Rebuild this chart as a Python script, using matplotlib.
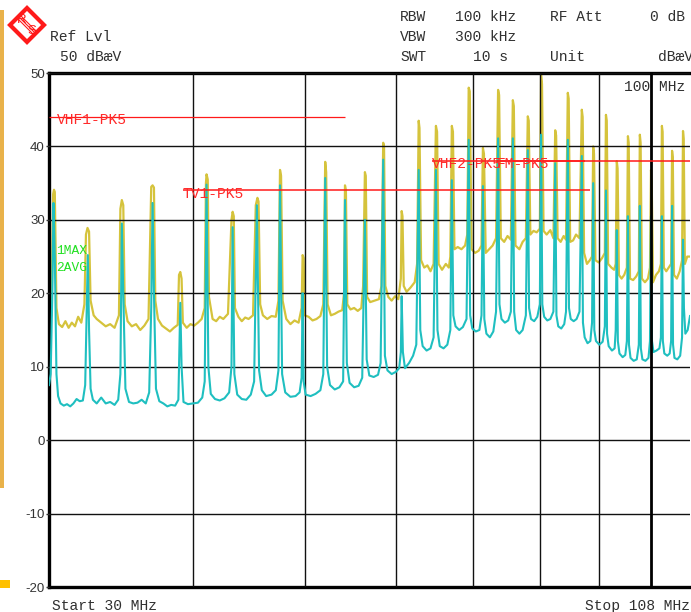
import matplotlib.pyplot as plt
import matplotlib
from matplotlib.patches import Polygon, Rectangle
from matplotlib.ticker import NullLocator

matplotlib.rcParams['axes.unicode_minus'] = False

W, H = 691, 612

# trace 1: MAX hold (MHz, dBuV)
max_trace = [
    (30.0, 16.0), (30.15, 17.0), (30.25, 33.5), (30.3, 34.1), (30.35, 33.8), (30.45, 18.0),
    (30.6, 15.8), (30.8, 15.4), (31.0, 16.2), (31.2, 15.3), (31.4, 16.0), (31.6, 15.5),
    (31.8, 16.8), (32.0, 16.0), (32.2, 18.5), (32.3, 28.0), (32.4, 28.9), (32.5, 28.4),
    (32.6, 19.0), (32.8, 17.0), (33.0, 16.5), (33.3, 16.0), (33.6, 15.5), (33.9, 15.8),
    (34.2, 15.3), (34.5, 17.0), (34.6, 31.5), (34.7, 32.7), (34.8, 32.0), (34.9, 18.5),
    (35.1, 16.2), (35.4, 15.5), (35.7, 15.8), (36.0, 15.0), (36.3, 15.6), (36.6, 16.5),
    (36.8, 34.5), (36.9, 34.7), (37.0, 34.4), (37.1, 19.0), (37.3, 16.5), (37.6, 15.6),
    (37.9, 15.2), (38.2, 14.8), (38.5, 15.3), (38.8, 15.7), (38.9, 22.5), (39.0, 22.9),
    (39.1, 22.0), (39.2, 16.0), (39.5, 15.3), (39.8, 15.8), (40.1, 15.6), (40.4, 16.0),
    (40.7, 16.5), (40.95, 18.0), (41.05, 35.0), (41.1, 36.2), (41.2, 35.5), (41.3, 19.5),
    (41.6, 16.5), (41.9, 16.2), (42.2, 16.8), (42.5, 16.5), (42.9, 17.2), (43.2, 30.0),
    (43.3, 31.1), (43.4, 30.5), (43.5, 18.0), (43.8, 16.8), (44.1, 16.2), (44.4, 16.7),
    (44.7, 16.5), (45.1, 17.0), (45.35, 32.0), (45.5, 33.0), (45.6, 32.5), (45.75, 18.5),
    (46.0, 17.0), (46.4, 16.5), (46.8, 16.9), (47.2, 16.8), (47.45, 19.0), (47.6, 36.8),
    (47.7, 36.0), (47.85, 19.0), (48.2, 16.5), (48.6, 15.8), (49.0, 16.3), (49.4, 16.0),
    (49.7, 18.0), (49.8, 25.2), (49.9, 24.8), (50.0, 17.0), (50.4, 16.8), (50.8, 16.3),
    (51.2, 16.5), (51.6, 16.9), (51.9, 18.5), (52.1, 37.9), (52.2, 36.5), (52.35, 18.5),
    (52.7, 17.0), (53.1, 17.2), (53.5, 17.5), (53.9, 17.7), (54.1, 20.0), (54.2, 34.7),
    (54.3, 34.0), (54.45, 18.5), (54.8, 17.8), (55.2, 18.0), (55.6, 17.6), (56.0, 18.0),
    (56.2, 21.0), (56.4, 36.5), (56.5, 36.0), (56.65, 19.5), (57.0, 18.8), (57.5, 19.0),
    (58.0, 19.2), (58.3, 21.0), (58.5, 40.5), (58.6, 40.0), (58.75, 21.0), (59.1, 19.5),
    (59.5, 19.0), (59.9, 19.6), (60.3, 19.2), (60.6, 22.0), (60.7, 31.2), (60.8, 30.5),
    (60.95, 21.0), (61.3, 20.2), (61.8, 20.8), (62.3, 21.5), (62.6, 24.0), (62.8, 43.5),
    (62.9, 42.5), (63.1, 24.5), (63.5, 23.5), (63.9, 23.8), (64.3, 23.0), (64.7, 24.0),
    (65.0, 42.8), (65.15, 42.0), (65.35, 24.0), (65.8, 23.2), (66.3, 24.0), (66.7, 23.5),
    (66.9, 25.0), (67.1, 42.8), (67.25, 42.0), (67.45, 26.0), (67.9, 26.3), (68.4, 26.0),
    (68.9, 26.5), (69.2, 28.0), (69.4, 48.0), (69.55, 47.5), (69.8, 26.0), (70.3, 25.5),
    (70.8, 25.8), (71.2, 26.5), (71.4, 39.8), (71.55, 39.0), (71.8, 25.5), (72.3, 26.0),
    (72.8, 26.5), (73.3, 27.5), (73.6, 47.7), (73.75, 47.0), (74.0, 27.5), (74.5, 27.0),
    (75.0, 27.8), (75.5, 27.3), (75.8, 46.3), (75.95, 45.5), (76.2, 26.5), (76.8, 26.0),
    (77.3, 27.0), (77.8, 27.5), (78.1, 44.1), (78.25, 43.5), (78.5, 28.0), (79.0, 28.5),
    (79.5, 28.3), (80.0, 28.8), (80.2, 49.7), (80.35, 48.5), (80.6, 28.5), (81.1, 28.0),
    (81.7, 28.6), (82.2, 27.5), (82.5, 42.2), (82.65, 41.5), (82.9, 27.5), (83.4, 27.0),
    (83.9, 27.8), (84.3, 27.3), (84.6, 47.3), (84.75, 46.5), (85.0, 27.0), (85.5, 27.2),
    (86.0, 28.0), (86.6, 27.5), (87.0, 45.0), (87.15, 44.0), (87.4, 25.5), (87.9, 24.0),
    (88.4, 24.5), (88.8, 25.0), (89.0, 40.0), (89.15, 39.0), (89.4, 24.5), (90.0, 24.2),
    (90.6, 24.8), (91.1, 25.5), (91.3, 44.3), (91.45, 43.5), (91.7, 24.0), (92.3, 23.5),
    (92.8, 23.2), (93.1, 24.0), (93.3, 38.0), (93.45, 37.0), (93.7, 22.5), (94.2, 22.0),
    (94.7, 22.5), (95.2, 23.5), (95.4, 41.4), (95.55, 40.5), (95.8, 22.0), (96.4, 21.8),
    (97.0, 22.3), (97.5, 23.0), (97.7, 41.6), (97.85, 40.5), (98.1, 22.0), (98.7, 21.5),
    (99.3, 22.0), (99.7, 23.5), (99.9, 36.8), (100.05, 35.0), (100.3, 21.5), (100.9, 22.5),
    (101.5, 23.0), (101.9, 24.0), (102.1, 42.8), (102.25, 42.0), (102.5, 23.5), (103.0, 23.0),
    (103.5, 23.5), (104.0, 24.0), (104.2, 39.4), (104.35, 38.5), (104.6, 22.5), (105.2, 22.0),
    (105.8, 23.0), (106.3, 24.5), (106.5, 42.1), (106.65, 41.0), (106.9, 24.0), (107.4, 25.0),
    (108.0, 25.0),
]

# trace 2: average (MHz, dBuV)
avg_trace = [
    (30.0, 7.5), (30.1, 9.0), (30.2, 20.0), (30.27, 32.3), (30.35, 25.0), (30.45, 9.0),
    (30.55, 6.0), (30.7, 5.0), (30.9, 4.7), (31.1, 4.9), (31.3, 4.6), (31.5, 5.0),
    (31.7, 5.6), (31.9, 5.3), (32.1, 5.4), (32.25, 7.5), (32.35, 18.0), (32.42, 25.2),
    (32.5, 15.0), (32.6, 7.0), (32.75, 5.5), (33.0, 5.0), (33.3, 5.8), (33.6, 5.0),
    (33.9, 5.2), (34.2, 4.8), (34.45, 5.5), (34.6, 9.0), (34.7, 29.5), (34.8, 20.0),
    (34.95, 7.0), (35.2, 5.2), (35.5, 5.0), (35.8, 5.1), (36.1, 5.5), (36.4, 5.0),
    (36.65, 6.5), (36.8, 18.0), (36.9, 32.3), (37.0, 20.0), (37.15, 7.0), (37.4, 5.3),
    (37.7, 5.0), (38.0, 4.6), (38.3, 4.8), (38.6, 4.7), (38.85, 5.5), (38.95, 14.0),
    (39.0, 18.7), (39.1, 10.0), (39.25, 5.2), (39.6, 4.9), (40.0, 5.0), (40.4, 5.1),
    (40.75, 5.8), (40.95, 8.0), (41.1, 34.8), (41.25, 10.0), (41.45, 6.3), (41.8, 5.6),
    (42.2, 5.4), (42.6, 5.7), (43.0, 6.5), (43.2, 10.0), (43.3, 29.0), (43.45, 9.0),
    (43.7, 6.2), (44.1, 5.6), (44.5, 5.5), (44.9, 6.2), (45.2, 8.0), (45.45, 32.0),
    (45.65, 9.5), (45.9, 6.8), (46.3, 6.0), (46.8, 6.2), (47.2, 6.8), (47.45, 9.5),
    (47.6, 34.7), (47.8, 9.0), (48.1, 6.5), (48.6, 5.9), (49.1, 6.0), (49.5, 6.5),
    (49.7, 8.5), (49.8, 20.0), (49.9, 8.0), (50.1, 6.2), (50.6, 6.0), (51.1, 6.3),
    (51.6, 6.8), (51.9, 9.0), (52.1, 35.7), (52.3, 10.0), (52.6, 7.5), (53.1, 6.9),
    (53.6, 7.2), (54.0, 8.0), (54.2, 32.7), (54.4, 10.5), (54.7, 7.8), (55.2, 7.2),
    (55.7, 7.4), (56.1, 8.5), (56.4, 30.0), (56.6, 11.0), (56.9, 8.8), (57.4, 8.6),
    (57.9, 8.9), (58.2, 10.5), (58.5, 38.2), (58.7, 11.5), (59.0, 9.5), (59.5, 9.0),
    (60.0, 9.3), (60.4, 9.8), (60.6, 12.0), (60.7, 19.6), (60.85, 12.0), (61.1, 9.8),
    (61.6, 10.5), (62.1, 11.5), (62.5, 13.0), (62.8, 36.8), (63.0, 15.0), (63.3, 12.8),
    (63.8, 12.2), (64.3, 12.5), (64.7, 14.0), (65.0, 36.8), (65.2, 15.0), (65.5, 12.8),
    (66.0, 12.5), (66.5, 13.0), (66.9, 15.0), (67.1, 35.4), (67.3, 17.0), (67.6, 15.5),
    (68.1, 15.0), (68.6, 15.4), (69.1, 16.5), (69.4, 40.9), (69.6, 17.0), (69.9, 15.2),
    (70.4, 14.8), (70.9, 15.0), (71.2, 17.0), (71.4, 34.6), (71.6, 16.5), (71.9, 14.5),
    (72.4, 14.0), (72.9, 14.8), (73.3, 17.5), (73.6, 41.1), (73.8, 18.5), (74.1, 16.5),
    (74.6, 16.0), (75.1, 16.3), (75.5, 17.5), (75.8, 41.1), (76.0, 17.5), (76.3, 15.0),
    (76.8, 14.5), (77.3, 15.0), (77.8, 17.0), (78.1, 39.5), (78.3, 18.0), (78.6, 16.5),
    (79.1, 16.2), (79.6, 16.8), (80.0, 18.5), (80.2, 41.6), (80.4, 18.5), (80.7, 16.8),
    (81.2, 16.3), (81.7, 16.5), (82.2, 17.5), (82.5, 37.7), (82.7, 17.0), (83.0, 15.5),
    (83.5, 15.2), (84.0, 15.8), (84.3, 17.5), (84.6, 40.9), (84.8, 18.0), (85.1, 16.5),
    (85.6, 16.2), (86.1, 16.5), (86.6, 17.5), (87.0, 38.7), (87.2, 16.0), (87.5, 14.0),
    (88.0, 13.2), (88.5, 13.5), (88.8, 16.0), (89.0, 35.0), (89.2, 15.0), (89.5, 13.5),
    (90.1, 13.0), (90.7, 13.4), (91.1, 15.5), (91.3, 34.0), (91.5, 14.5), (91.8, 12.8),
    (92.4, 12.2), (92.9, 12.5), (93.1, 15.0), (93.3, 28.6), (93.5, 13.5), (93.8, 11.8),
    (94.4, 11.3), (94.9, 11.6), (95.2, 13.5), (95.4, 30.5), (95.6, 13.0), (95.9, 11.2),
    (96.5, 10.8), (97.1, 11.0), (97.5, 13.0), (97.7, 31.9), (97.9, 12.5), (98.2, 11.0),
    (98.8, 10.8), (99.4, 11.2), (99.7, 13.5), (99.9, 30.5), (100.1, 13.5), (100.4, 12.0),
    (101.0, 12.2), (101.6, 12.5), (101.9, 14.0), (102.1, 30.5), (102.3, 13.5), (102.6, 11.8),
    (103.2, 11.5), (103.7, 11.8), (104.0, 13.5), (104.2, 31.9), (104.4, 13.0), (104.7, 11.2),
    (105.3, 11.0), (105.9, 11.5), (106.3, 14.0), (106.5, 27.3), (106.7, 18.0), (107.0, 14.5),
    (107.5, 15.0), (108.0, 16.9),
]

# limit lines
limit_names = ["VHF1-PK5", "TV1-PK5", "VHF2-PK5", "FM-PK5"]
limit_levels = [44, 34, 38, 38]
limit_start = [30.0, 39.2, 64.5, 73.4]
limit_stop = [54.2, 88.5, 87.5, 108.0]
label_freq = [30.5, 39.2, 64.5, 73.4]

y_ticks = [-20, -10, 0, 10, 20, 30, 40, 50]
grid_freqs = [40, 50, 60, 70, 80, 90]
display_line = 100

MONO = 'Liberation Mono'
TXT = '#303030'
RED = '#ff1a1a'


def px(x, y):
    return x / W, 1 - y / H


def label(x, y, s, color=TXT, size=10.5, **kw):
    fig.text(*px(x, y), s, color=color, fontsize=size, family=MONO,
             va='center', ha='left', **kw)


fig = plt.figure(figsize=(W / 100, H / 100), dpi=100)
ax = fig.add_axes([49 / W, 25 / H, 641 / W, 514 / H])

ax.plot([p[0] for p in max_trace], [p[1] for p in max_trace], color='#d5c33c', lw=1.6, zorder=2)
ax.plot([p[0] for p in avg_trace], [p[1] for p in avg_trace], color='#1fbfc0', lw=1.5, zorder=3)

ax.set_xscale('log')
ax.set_xlim(30, 108)
ax.set_ylim(-20, 50)
ax.xaxis.set_minor_locator(NullLocator())
ax.set_xticks(grid_freqs)
ax.set_xticklabels([])
ax.set_yticks(y_ticks)
ax.set_yticklabels([str(v) for v in y_ticks], family='Liberation Sans', fontsize=9.5, color='#333333')
ax.tick_params(axis='x', length=0)
ax.tick_params(axis='y', length=2, width=1, pad=1, color='#333333')
ax.grid(True, color='#111111', lw=1.0, zorder=4)
ax.set_axisbelow(False)
ax.axvline(display_line, color='black', lw=2.0, zorder=4)

for sp in ['left', 'top', 'bottom']:
    ax.spines[sp].set_linewidth(2.4)
    ax.spines[sp].set_color('black')
ax.spines['right'].set_visible(False)

for name, lvl, f0, f1, fl in zip(limit_names, limit_levels, limit_start, limit_stop, label_freq):
    ax.hlines(lvl, f0, f1, color=RED, lw=0.9 if name == 'VHF1-PK5' else 1.1, zorder=5)
    ax.text(fl, lvl - 0.45, name, color='#ff2a2a', fontsize=10.5, family=MONO,
            va='center', ha='left', zorder=6)

ax.text(30.45, 25.8, "1MAX", color='#22e022', fontsize=9.3, family=MONO, va='center', zorder=6)
ax.text(30.45, 23.5, "2AVG", color='#22e022', fontsize=9.3, family=MONO, va='center', zorder=6)

# header
label(50, 37, "Ref Lvl")
label(60, 57, "50 dBæV")
label(400, 17, "RBW")
label(455, 17, "100 kHz")
label(550, 17, "RF Att")
label(650, 17, "0 dB")
label(400, 37, "VBW")
label(455, 37, "300 kHz")
label(400, 57, "SWT")
label(473, 57, "10 s")
label(550, 57, "Unit")
label(658, 57, "dBæV")
label(624, 87, "100 MHz")
label(52, 606, "Start 30 MHz")
label(585, 606, "Stop 108 MHz")

# R&S logo
cx, cy, r = 27, 25, 17
fig.add_artist(Polygon([px(cx, cy - r), px(cx + r, cy), px(cx, cy + r), px(cx - r, cy)],
                       closed=True, facecolor='white', edgecolor=RED, lw=3.0,
                       transform=fig.transFigure))
for d in (-1.5, 0, 1.5):
    x0, y0 = px(cx - 8 + d, cy - 8 - d)
    x1, y1 = px(cx + 8 + d, cy + 8 - d)
    fig.add_artist(plt.Line2D([x0, x1], [y0, y1], color=RED, lw=0.8, transform=fig.transFigure))
fig.text(*px(cx - 5, cy - 5), "R", color=RED, fontsize=9.5, family='Liberation Sans',
         ha='center', va='center')
fig.text(*px(cx + 5, cy + 6), "S", color=RED, fontsize=9.5, family='Liberation Sans',
         ha='center', va='center')

# left window edge
fig.add_artist(Rectangle(px(0, 488), 4 / W, 478 / H, facecolor='#e9b24a', edgecolor='none',
                         transform=fig.transFigure))
fig.add_artist(Rectangle(px(0, 588), 10 / W, 8 / H, facecolor='#ffc000', edgecolor='none',
                         transform=fig.transFigure))

fig.savefig('out.png', dpi=100)
